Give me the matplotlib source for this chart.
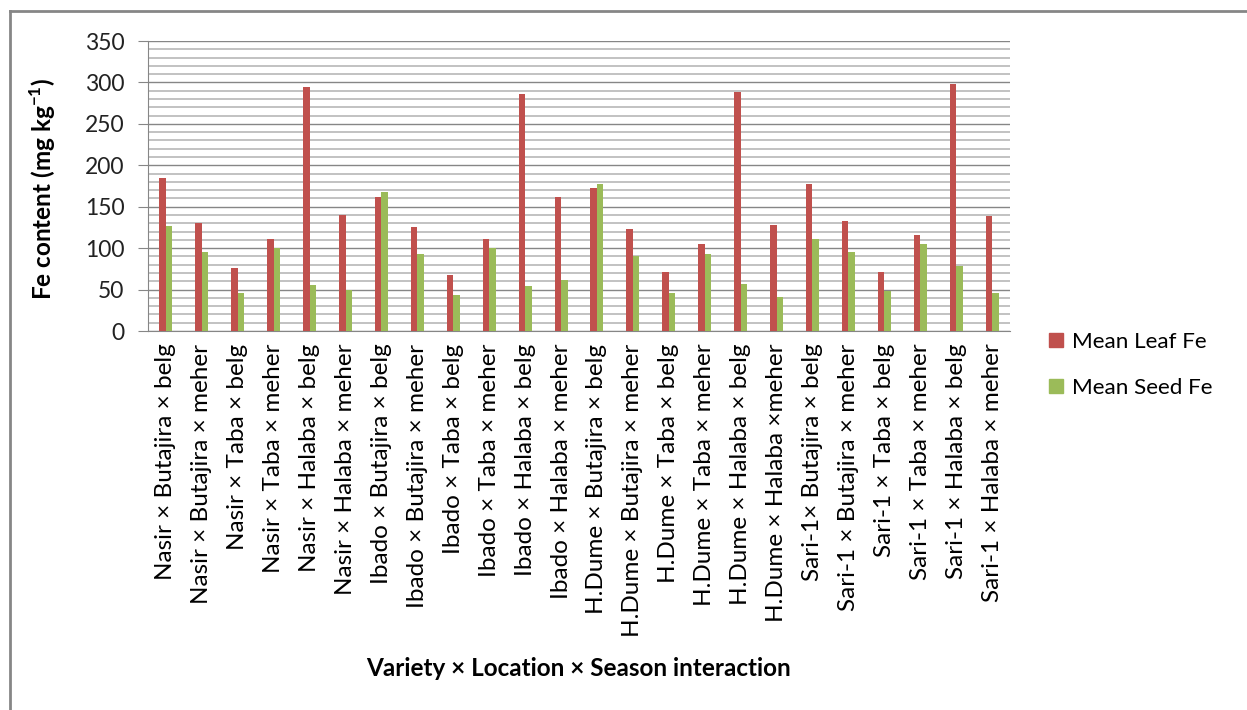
import numpy as np
import matplotlib.pyplot as plt
from matplotlib.lines import Line2D
from matplotlib.ticker import MultipleLocator

plt.rcParams['font.family'] = ['Lato', 'DejaVu Sans']
plt.rcParams['mathtext.fontset'] = 'custom'
plt.rcParams['mathtext.rm'] = 'Lato'
plt.rcParams['mathtext.bf'] = 'Lato:bold'

labels = ['Nasir × Butajira × belg', 'Nasir × Butajira × meher',
          'Nasir × Taba × belg', 'Nasir × Taba × meher',
          'Nasir × Halaba × belg', 'Nasir × Halaba × meher',
          'Ibado × Butajira × belg', 'Ibado × Butajira × meher',
          'Ibado × Taba × belg', 'Ibado × Taba × meher',
          'Ibado × Halaba × belg', 'Ibado × Halaba × meher',
          'H.Dume × Butajira × belg', 'H.Dume × Butajira × meher',
          'H.Dume × Taba × belg', 'H.Dume × Taba × meher',
          'H.Dume × Halaba × belg', 'H.Dume × Halaba ×meher',
          'Sari-1× Butajira × belg', 'Sari-1 × Butajira × meher',
          'Sari-1 × Taba × belg', 'Sari-1 × Taba × meher',
          'Sari-1 × Halaba × belg', 'Sari-1 × Halaba × meher']

leaf_fe = [185, 130, 76, 111, 295, 140, 162, 126, 68, 111, 286, 162,
           173, 123, 71, 105, 289, 128, 178, 133, 71, 116, 298, 139]
seed_fe = [127, 95, 46, 100, 56, 50, 168, 93, 44, 100, 54, 62,
           178, 91, 46, 93, 57, 41, 111, 95, 48, 105, 79, 46]

if __name__ == "__main__":

    fig = plt.figure(figsize=(12.47, 7.10), dpi=100)
    ax = fig.add_axes([148 / 1247, 1 - 331 / 710, 862 / 1247, 290 / 710])

    x = np.arange(len(labels))
    w = 0.18
    ax.bar(x - w / 2, leaf_fe, w, color='#C0504D', label='Mean Leaf Fe', zorder=3)
    ax.bar(x + w / 2, seed_fe, w, color='#9BBB59', label='Mean Seed Fe', zorder=3)

    ax.set_xlim(-0.5, len(labels) - 0.5)
    ax.set_ylim(0, 350)
    ax.yaxis.set_major_locator(MultipleLocator(50))
    ax.yaxis.set_minor_locator(MultipleLocator(10))
    ax.grid(which='major', axis='y', color='#868686', lw=1.0, zorder=1)
    ax.grid(which='minor', axis='y', color='#bdbdbd', lw=1.3, zorder=0)

    ax.set_xticks(x)
    ax.set_xticklabels(labels, rotation=90, fontsize=17.5)
    ax.tick_params(axis='x', length=0, pad=9)
    ax.tick_params(axis='y', which='major', length=7, color='#868686',
                   labelsize=16.5, pad=10, labelcolor='#222222')
    ax.tick_params(axis='y', which='minor', length=0)

    for s in ['top', 'right']:
        ax.spines[s].set_visible(False)
    for s in ['left', 'bottom']:
        ax.spines[s].set_color('#868686')

    ax.set_ylabel(r'Fe content (mg kg$^{\mathbf{-1}}$)', fontsize=17.5,
                  fontweight='bold')
    ax.yaxis.set_label_coords(-0.104, 0.49)
    fig.text(579 / 1247, 1 - 668 / 710, 'Variety × Location × Season interaction',
             fontsize=17.5, fontweight='bold', ha='center', va='center')

    handles = [Line2D([], [], marker='s', ls='', color='#C0504D', markersize=10),
               Line2D([], [], marker='s', ls='', color='#9BBB59', markersize=10)]
    fig.legend(handles, ['Mean Leaf Fe', 'Mean Seed Fe'], loc='upper left',
               bbox_to_anchor=(1028 / 1247, 1 - 312 / 710), frameon=False,
               fontsize=16.2, handlelength=0.7, handletextpad=0.35, labelspacing=1.15)

    # chart frame (only left and top edges visible)
    fig.add_artist(Line2D([10 / 1247, 10 / 1247], [0, 1 - 11 / 710],
                          transform=fig.transFigure, color='#868686', lw=2))
    fig.add_artist(Line2D([10 / 1247, 1], [1 - 11 / 710, 1 - 11 / 710],
                          transform=fig.transFigure, color='#868686', lw=2))

    plt.savefig('out.png', dpi=100)
